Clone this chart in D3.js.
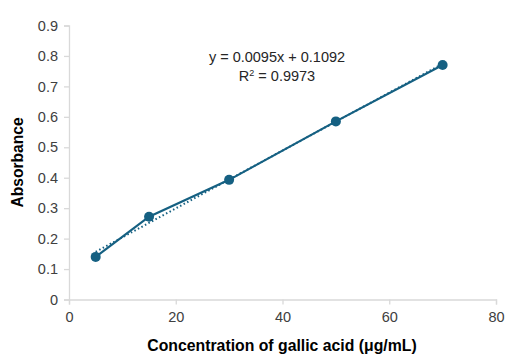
<!DOCTYPE html>
<html><head><meta charset="utf-8">
<script src="https://cdn.jsdelivr.net/npm/d3@7"></script>
<style>body{margin:0;background:#fff;}svg{display:block;font-family:"Liberation Sans",Arial,sans-serif;}</style>
</head><body>
<svg id="c" width="506" height="356"></svg>
<script>
const concentrations = [5, 15, 30, 50, 70];
const absorbances = [0.14, 0.272, 0.393, 0.585, 0.77];
const xTicks = [0, 20, 40, 60, 80];
const yTicks = [0, 0.1, 0.2, 0.3, 0.4, 0.5, 0.6, 0.7, 0.8, 0.9];
const slope = 0.0095, intercept = 0.1092;
const equationText = "y = 0.0095x + 0.1092";
const r2Text = "0.9973";
const xTitle = "Concentration of gallic acid (μg/mL)";
const yTitle = "Absorbance";

const svg = d3.select("#c");
const x = d3.scaleLinear().domain([0, 80]).range([69, 496]);
const y = d3.scaleLinear().domain([0, 0.9]).range([299.5, 25.5]);
const color = "#156082", axisColor = "#d9d9d9", textColor = "#404040";

const xa = svg.append("g").attr("transform", `translate(0,${y(0)})`)
  .call(d3.axisBottom(x).tickValues(xTicks).tickSize(5).tickPadding(7).tickFormat(d3.format("d")));
const ya = svg.append("g").attr("transform", `translate(${x(0)},0)`)
  .call(d3.axisLeft(y).tickValues(yTicks).tickSize(5).tickPadding(6).tickFormat(d => d === 0 ? "0" : d3.format(".1f")(d)));
[xa, ya].forEach(a => {
  a.selectAll("path,line").attr("stroke", axisColor).attr("stroke-width", 1.3);
  a.selectAll("text").attr("fill", textColor).attr("font-size", 14.5).attr("font-family", "Liberation Sans, Arial, sans-serif");
});

// trendline (dotted)
const tx = [d3.min(concentrations), d3.max(concentrations)];
svg.append("path")
  .attr("d", d3.line().x(d => x(d)).y(d => y(slope * d + intercept))(tx))
  .attr("fill", "none").attr("stroke", color).attr("stroke-width", 2)
  .attr("stroke-dasharray", "1.5,2.5");

const pts = concentrations.map((c, i) => [c, absorbances[i]]);
svg.append("path")
  .attr("d", d3.line().x(d => x(d[0])).y(d => y(d[1]))(pts))
  .attr("fill", "none").attr("stroke", color).attr("stroke-width", 2.2);
svg.selectAll("circle.pt").data(pts).join("circle")
  .attr("cx", d => x(d[0])).attr("cy", d => y(d[1])).attr("r", 5).attr("fill", color);

// equation
svg.append("text").attr("x", 277).attr("y", 62).attr("text-anchor", "middle")
  .attr("font-size", 14.5).attr("fill", "#262626").text(equationText);
const r = svg.append("text").attr("x", 277).attr("y", 81).attr("text-anchor", "middle")
  .attr("font-size", 14.5).attr("fill", "#262626");
r.append("tspan").text("R");
r.append("tspan").attr("dy", -5).attr("font-size", 9).text("2");
r.append("tspan").attr("dy", 5).text(" = " + r2Text);

// titles
svg.append("text").attr("x", 282).attr("y", 351).attr("text-anchor", "middle")
  .attr("font-size", 15.8).attr("font-weight", "bold").attr("fill", "#000").text(xTitle);
svg.append("text").attr("transform", "translate(23,162.5) rotate(-90)").attr("text-anchor", "middle")
  .attr("font-size", 15.6).attr("font-weight", "bold").attr("fill", "#000").text(yTitle);
</script>
</body></html>
